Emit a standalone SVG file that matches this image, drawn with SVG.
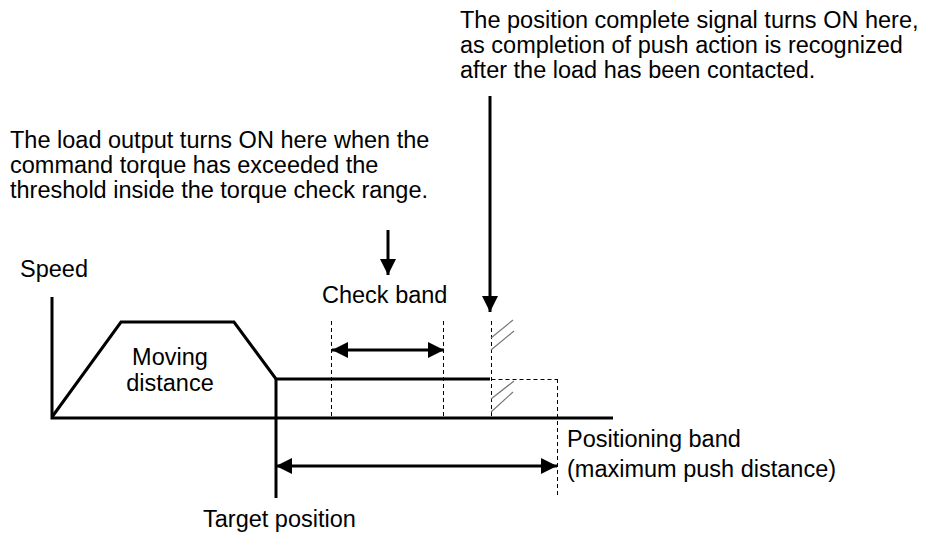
<svg xmlns="http://www.w3.org/2000/svg" width="927" height="533" viewBox="0 0 927 533">
<style>
text{font-family:"Liberation Sans",Arial,sans-serif;font-size:23.5px;fill:#000}
.ln{fill:none;stroke:#000;stroke-width:3}
.ar{fill:none;stroke:#000;stroke-width:3}
.ds{fill:none;stroke:#000;stroke-width:1;stroke-dasharray:4,3}
.ht{fill:none;stroke:#777;stroke-width:1.2}
</style>
<defs>
<marker id="ah" viewBox="0 0 16 16" refX="16" refY="8" markerWidth="16" markerHeight="16" markerUnits="userSpaceOnUse" orient="auto-start-reverse">
<path d="M0,0 L16,8 L0,16 Z" fill="#000"/>
</marker>
</defs>
<rect width="927" height="533" fill="#fff"/>
<g id="axes">
<path class="ln" d="M52,297 V418 H613"/>
</g>
<g id="profile">
<path class="ln" d="M52,417 L121,322 L234,322 L276,379 L490,379"/>
<path class="ln" d="M276,379 V498"/>
</g>
<g id="guides">
<path class="ds" d="M331.5,321 V418 M443.5,321 V418 M491.5,321 V418 M491.5,379.5 H557.5 M557.5,379 V498"/>
</g>
<g id="hatch">
<path class="ht" d="M491,338 L513,320 M491,350 L514,331 M491,399 L514,381 M491,412 L513,392"/>
</g>
<g id="connectors">
<line class="ar" x1="332" y1="350" x2="444" y2="350" marker-start="url(#ah)" marker-end="url(#ah)"/>
<line class="ar" x1="276" y1="466" x2="557" y2="466" marker-start="url(#ah)" marker-end="url(#ah)"/>
<line class="ar" x1="388" y1="230" x2="388" y2="275" marker-end="url(#ah)"/>
<line class="ar" x1="490" y1="96" x2="490" y2="312" marker-end="url(#ah)"/>
</g>
<g id="labels">
<text x="460" y="28">The position complete signal turns ON here,</text>
<text x="460" y="53">as completion of push action is recognized</text>
<text x="460" y="78">after the load has been contacted.</text>
<text x="10" y="148">The load output turns ON here when the</text>
<text x="10" y="173">command torque has exceeded the</text>
<text x="10" y="198">threshold inside the torque check range.</text>
<text x="20" y="277">Speed</text>
<text x="322" y="303">Check band</text>
<text x="170" y="365" text-anchor="middle">Moving</text>
<text x="170" y="391" text-anchor="middle">distance</text>
<text x="567" y="447">Positioning band</text>
<text x="567" y="477">(maximum push distance)</text>
<text x="203" y="527">Target position</text>
</g>
</svg>
